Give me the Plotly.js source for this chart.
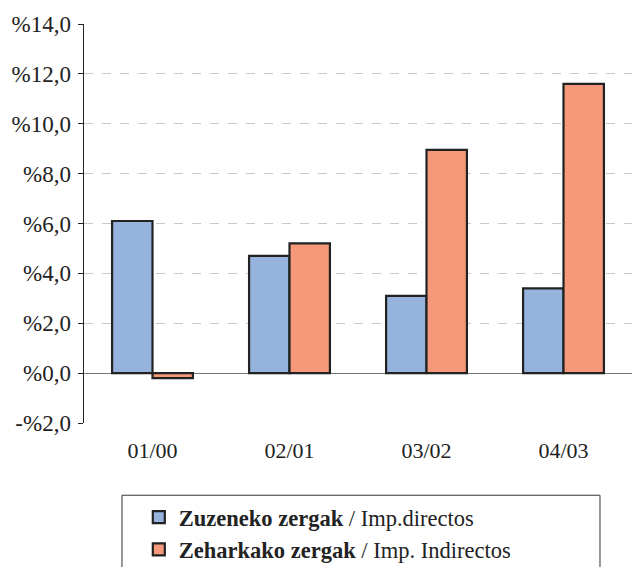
<!DOCTYPE html>
<html>
<head>
<meta charset="utf-8">
<script src="https://cdn.plot.ly/plotly-3.0.1.min.js"></script>
<style>html,body{margin:0;padding:0;background:#fff;}#chart{width:632px;height:567px;}</style>
</head>
<body>
<div id="chart"></div>
<script>
var categories = ["01/00", "02/01", "03/02", "04/03"];
var directos = [6.1, 4.7, 3.1, 3.4];
var indirectos = [-0.2, 5.2, 8.95, 11.6];
var seriesNames = ["<b>Zuzeneko zergak</b> / Imp.directos", "<b>Zeharkako zergak</b> / Imp. Indirectos"];
var yTickVals = [-2, 0, 2, 4, 6, 8, 10, 12, 14];
var yTickText = ["-%2,0", "%0,0", "%2,0", "%4,0", "%6,0", "%8,0", "%10,0", "%12,0", "%14,0"];

var font = "Times New Roman, Liberation Serif, DejaVu Serif, serif";
var traces = [
  {type: "bar", x: categories, y: directos, name: seriesNames[0],
   marker: {color: "#95b3dc", line: {color: "#222", width: 2.2}}},
  {type: "bar", x: categories, y: indirectos, name: seriesNames[1],
   marker: {color: "#f5997a", line: {color: "#222", width: 2.2}}}
];
var layout = {
  width: 632, height: 567,
  margin: {l: 84, r: 0, t: 23.5, b: 143.5, autoexpand: false},
  paper_bgcolor: "#fff", plot_bgcolor: "#fff",
  font: {family: font, size: 22, color: "#222"},
  barmode: "group", bargap: 0.41, bargroupgap: 0,
  showlegend: true,
  legend: {x: 0.1, y: -0.183, xanchor: "left", yanchor: "top",
           font: {family: font, size: 22.5, color: "#222"},
           bgcolor: "rgba(0,0,0,0)", borderwidth: 0, tracegroupgap: 0},
  xaxis: {type: "category", range: [-0.5, 3.5], showline: false, showgrid: false,
          zeroline: false, ticks: "", tickfont: {family: font, size: 22, color: "#222"},
          ticklabelstandoff: 12},
  xaxis2: {overlaying: "x", anchor: "free", position: 0.125, range: [-0.5, 3.5],
           tickmode: "array", tickvals: [0.5, 1.5, 2.5], ticks: "outside", ticklen: 5,
           tickcolor: "#666", tickwidth: 1, showticklabels: false, showgrid: false,
           zeroline: false, showline: false, fixedrange: true},
  yaxis: {range: [-2, 14], tickmode: "array", tickvals: yTickVals, ticktext: yTickText,
          showline: true, linecolor: "#222", linewidth: 1.5, ticks: "outside", ticklen: 5,
          tickcolor: "#222", tickwidth: 1, ticklabelstandoff: 2,
          showgrid: true, gridcolor: "#c8c8c8", griddash: "dash", gridwidth: 1,
          zeroline: true, zerolinecolor: "#777", zerolinewidth: 1,
          tickfont: {family: font, size: 23, color: "#222"}},
  shapes: [
    {type: "rect", xref: "paper", yref: "paper", x0: 0.0693, x1: 0.9416, y0: -0.181, y1: -0.4,
     line: {color: "#333", width: 1}, fillcolor: "rgba(0,0,0,0)", layer: "below"}
  ]
};
Plotly.newPlot("chart", traces, layout, {staticPlot: true, displayModeBar: false});
</script>
</body>
</html>
